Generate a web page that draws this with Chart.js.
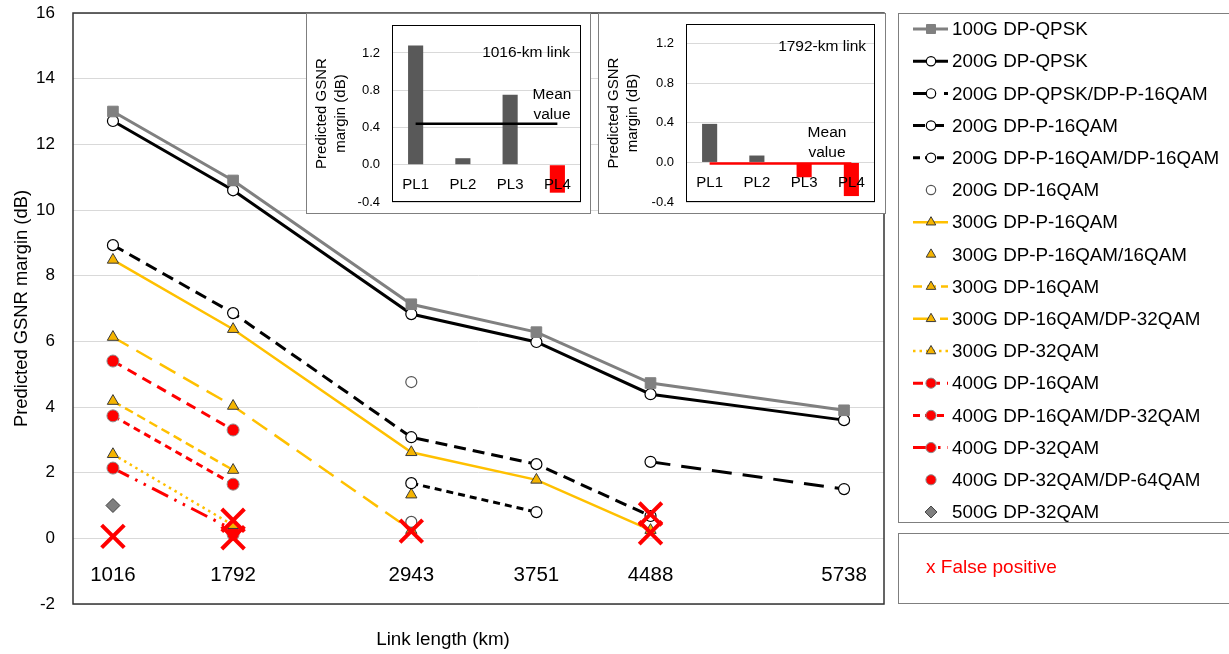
<!DOCTYPE html>
<html>
<head>
<meta charset="utf-8">
<script src="https://cdn.jsdelivr.net/npm/chart.js@4.4.1/dist/chart.umd.min.js"></script>
<style>
html, body { margin: 0; padding: 0; background: #fff; }
#wrap { position: relative; width: 1229px; height: 654px; overflow: hidden; }
#main { position: absolute; left: 0; top: 0; }
.inset { position: absolute; background: #fff; }
</style>
</head>
<body>
<div id="wrap">
    <canvas id="main" width="1229" height="654"></canvas>
    <div class="inset" style="left:306px;top:13px;width:285px;height:201px"><canvas id="inset1" width="285" height="201"></canvas></div>
    <div class="inset" style="left:598px;top:13px;width:288px;height:201px"><canvas id="inset2" width="288" height="201"></canvas></div>
</div>
<script>
// link lengths (km), every series below is aligned to these
const linkKm = [1016, 1792, 2943, 3751, 4488, 5738];

const g100DpQpsk = [13.0, 10.9, 7.13, 6.28, 4.73, 3.9];
const g200DpQpsk = [12.71, 10.6, 6.83, 5.98, 4.39, 3.6];
const g200QpskP16 = [null, null, null, null, 2.33, 1.5];
const g200P16 = [8.93, 6.86, 3.08, 2.26, 0.68, null];
const g200P16Dp16 = [null, null, 1.68, 0.8, null, null];
const g200Dp16Km = [2943, 2943];
const g200Dp16 = [4.76, 0.5];
const g300P16 = [8.48, 6.37, 2.62, 1.78, 0.25, null];
const g300P16Q16 = [null, null, 1.33, null, null, null];
const g300Dp16 = [4.18, 2.08, null, null, null, null];
const g300Dp16Dp32 = [6.13, 4.03, 0.25, null, null, null];
const g300Dp32 = [2.56, 0.4, null, null, null, null];
const g400Dp16 = [5.4, 3.3, null, null, null, null];
const g400Dp16Dp32 = [3.73, 1.65, null, null, null, null];
const g400Dp32 = [2.14, 0.26, null, null, null, null];
const g400Dp32Dp64 = [null, 0.12, null, null, null, null];
const g500Dp32 = [1.0, null, null, null, null, null];

const falseKm = [1016, 1792, 1792, 2943, 4488, 4488];
const falseMargin = [0.06, 0.55, 0.02, 0.22, 0.74, 0.17];

const yTicksMain = [-2, 0, 2, 4, 6, 8, 10, 12, 14, 16];

// insets
const plLabels = ["PL1", "PL2", "PL3", "PL4"];
const margin1016 = [1.28, 0.07, 0.75, -0.3];
const margin1792 = [0.39, 0.07, -0.15, -0.34];
const mean1016 = 0.44;
const mean1792 = -0.01;
const insetTicks = [-0.4, 0, 0.4, 0.8, 1.2];

const FONT = "'Liberation Sans', Arial, sans-serif";
Chart.defaults.font.family = FONT;
Chart.defaults.color = "#000";

const circleMk = { pointStyle: "circle", pointRadius: 5.5, pointBackgroundColor: "#fff", pointBorderColor: "#000", pointBorderWidth: 1.2 };
const triMk = { pointStyle: "triangle", pointRadius: 6.5, pointBackgroundColor: "#f5b400", pointBorderColor: "#3a3a3a", pointBorderWidth: 1 };
const redMk = { pointStyle: "circle", pointRadius: 6, pointBackgroundColor: "#ff0000", pointBorderColor: "#8c8c8c", pointBorderWidth: 1 };

function series(label, values, style, km) {
    const xs = km || linkKm;
    const ds = {
        label: label,
        data: xs.map(function (k, i) { return { x: k, y: values[i] }; }),
        showLine: true,
        borderWidth: 3,
        spanGaps: false
    };
    return Object.assign(ds, style);
}

const datasets = [
    series("False positive", falseMargin, {
        showLine: false, pointStyle: "crossRot", pointRadius: 16, pointBorderWidth: 4,
        pointBorderColor: "#ff0000", pointBackgroundColor: "#ff0000", order: -1, noLegend: true
    }, falseKm),
    series("100G DP-QPSK", g100DpQpsk, { borderColor: "#808080", pointStyle: "rect", pointRadius: 7.5, pointBackgroundColor: "#808080", pointBorderColor: "#808080", pointBorderWidth: 1 }),
    series("200G DP-QPSK", g200DpQpsk, Object.assign({ borderColor: "#000" }, circleMk)),
    series("200G DP-QPSK/DP-P-16QAM", g200QpskP16, Object.assign({ borderColor: "#000", borderDash: [20, 11] }, circleMk)),
    series("200G DP-P-16QAM", g200P16, Object.assign({ borderColor: "#000", borderDash: [12, 7] }, circleMk)),
    series("200G DP-P-16QAM/DP-16QAM", g200P16Dp16, Object.assign({ borderColor: "#000", borderDash: [7, 5] }, circleMk)),
    series("200G DP-16QAM", g200Dp16, Object.assign({ showLine: false, borderColor: "#000" }, circleMk, { pointBorderColor: "#555" }), g200Dp16Km),
    series("300G DP-P-16QAM", g300P16, Object.assign({ borderColor: "#ffc000", borderWidth: 2.5 }, triMk)),
    series("300G DP-P-16QAM/16QAM", g300P16Q16, Object.assign({ showLine: false, borderColor: "#ffc000" }, triMk)),
    series("300G DP-16QAM", g300Dp16, Object.assign({ borderColor: "#ffc000", borderWidth: 2.5, borderDash: [9, 5] }, triMk)),
    series("300G DP-16QAM/DP-32QAM", g300Dp16Dp32, Object.assign({ borderColor: "#ffc000", borderWidth: 2.5, borderDash: [18, 9] }, triMk)),
    series("300G DP-32QAM", g300Dp32, Object.assign({ borderColor: "#ffc000", borderWidth: 2.5, borderDash: [2.5, 4] }, triMk)),
    series("400G DP-16QAM", g400Dp16, Object.assign({ borderColor: "#ff0000", borderDash: [10, 7] }, redMk)),
    series("400G DP-16QAM/DP-32QAM", g400Dp16Dp32, Object.assign({ borderColor: "#ff0000", borderDash: [7, 5] }, redMk)),
    series("400G DP-32QAM", g400Dp32, Object.assign({ borderColor: "#ff0000", borderDash: [18, 7, 2.5, 7, 2.5, 7] }, redMk)),
    series("400G DP-32QAM/DP-64QAM", g400Dp32Dp64, Object.assign({ showLine: false, borderColor: "#ff0000" }, redMk)),
    series("500G DP-32QAM", g500Dp32, { showLine: false, borderColor: "#7f7f7f", pointStyle: "rectRot", pointRadius: 7, pointBackgroundColor: "#7f7f7f", pointBorderColor: "#404040", pointBorderWidth: 1 })
];

const mainDecor = {
    id: "mainDecor",
    afterDraw(chart) {
        const ctx = chart.ctx;
        const a = chart.chartArea;
        const x = chart.scales.x;
        const y = chart.scales.y;
        ctx.save();
        ctx.setLineDash([]);
        ctx.strokeStyle = "#333";
        ctx.lineWidth = 1.5;
        ctx.strokeRect(a.left, a.top, a.right - a.left, a.bottom - a.top);

        // link length labels inside the plot
        ctx.fillStyle = "#000";
        ctx.textAlign = "center";
        ctx.textBaseline = "middle";
        ctx.font = "20.5px " + FONT;
        linkKm.forEach(function (k) {
            ctx.fillText(String(k), x.getPixelForValue(k), y.getPixelForValue(-1.13));
        });
        ctx.font = "18.8px " + FONT;
        ctx.fillText("Link length (km)", 443, 640);

        // legend box
        ctx.strokeStyle = "#7f7f7f";
        ctx.lineWidth = 1;
        ctx.strokeRect(898.5, 13.5, 345, 509);
        ctx.strokeRect(898.5, 533.5, 345, 70);

        ctx.textAlign = "left";
        ctx.font = "18.8px " + FONT;
        let row = 0;
        chart.data.datasets.forEach(function (ds) {
            if (ds.noLegend) {
                return;
            }
            const ry = 29 + row * 32.2;
            if (ds.showLine) {
                ctx.strokeStyle = ds.borderColor;
                ctx.lineWidth = ds.borderWidth;
                ctx.setLineDash(ds.borderDash || []);
                ctx.beginPath();
                ctx.moveTo(913, ry);
                ctx.lineTo(948, ry);
                ctx.stroke();
            }
            ctx.setLineDash([]);
            ctx.fillStyle = ds.pointBackgroundColor;
            ctx.strokeStyle = ds.pointBorderColor;
            ctx.lineWidth = ds.pointBorderWidth;
            Chart.helpers.drawPoint(ctx, {
                pointStyle: ds.pointStyle, rotation: 0,
                radius: ds.pointRadius * 0.85, borderWidth: ds.pointBorderWidth
            }, 931, ry);
            ctx.fillStyle = "#000";
            ctx.fillText(ds.label, 952, ry + 1);
            row++;
        });

        ctx.fillStyle = "#ff0000";
        ctx.font = "19px " + FONT;
        ctx.fillText("x False positive", 926, 568);
        ctx.restore();
    }
};

new Chart(document.getElementById("main"), {
    type: "line",
    data: { datasets: datasets },
    options: {
        responsive: false,
        animation: false,
        events: [],
        layout: { autoPadding: false, padding: { left: 0, top: 13, right: 345, bottom: 50 } },
        plugins: { legend: { display: false }, tooltip: { enabled: false } },
        scales: {
            x: {
                type: "linear",
                min: 758,
                max: 5996,
                display: false
            },
            y: {
                min: -2,
                max: 16,
                afterBuildTicks: function (scale) {
                    scale.ticks = yTicksMain.map(function (v) { return { value: v }; });
                },
                afterFit: function (scale) {
                    scale.width = 73;
                    scale.paddingTop = 0;
                    scale.paddingBottom = 0;
                },
                grid: { color: "#d9d9d9", lineWidth: 1, drawTicks: false },
                border: { display: false },
                ticks: { font: { size: 17 }, color: "#000", padding: 18 },
                title: {
                    display: true,
                    text: "Predicted GSNR margin (dB)",
                    font: { size: 18.4 },
                    color: "#000",
                    padding: { top: 11, bottom: 0 }
                }
            }
        }
    },
    plugins: [mainDecor]
});

function insetDecor(cfg) {
    return {
        id: "insetDecor",
        afterDraw(chart) {
            const ctx = chart.ctx;
            const a = chart.chartArea;
            const x = chart.scales.x;
            const y = chart.scales.y;
            ctx.save();
            ctx.strokeStyle = "#7f7f7f";
            ctx.lineWidth = 1;
            ctx.strokeRect(0.5, 0.5, chart.width - 1, chart.height - 1);
            ctx.strokeStyle = "#000";
            ctx.strokeRect(a.left + 0.5, a.top + 0.5, a.right - a.left - 1, a.bottom - a.top - 1);

            ctx.fillStyle = "#000";
            ctx.font = "15px " + FONT;
            ctx.textAlign = "center";
            ctx.textBaseline = "middle";
            plLabels.forEach(function (lab, i) {
                ctx.fillText(lab, x.getPixelForValue(i), y.getPixelForValue(0) + 20);
            });
            ctx.font = "15.5px " + FONT;
            ctx.textAlign = "right";
            ctx.fillText(cfg.title, cfg.titleX, cfg.titleY);
            ctx.textAlign = "center";
            ctx.fillText("Mean", cfg.meanX, cfg.meanY);
            ctx.fillText("value", cfg.meanX, cfg.meanY + 20);
            ctx.restore();
        }
    };
}

function makeInset(canvasId, values, mean, meanColor, yMax, axisWidth, pad, cfg) {
    return new Chart(document.getElementById(canvasId), {
        type: "bar",
        data: {
            labels: plLabels,
            datasets: [
                {
                    type: "line",
                    data: plLabels.map(function () { return mean; }),
                    borderColor: meanColor,
                    borderWidth: 2.5,
                    pointRadius: 0,
                    order: 0
                },
                {
                    data: values,
                    backgroundColor: values.map(function (v) { return v < 0 ? "#ff0000" : "#595959"; }),
                    barPercentage: 0.32,
                    categoryPercentage: 1,
                    order: 1
                }
            ]
        },
        options: {
            responsive: false,
            animation: false,
            events: [],
            layout: { autoPadding: false, padding: pad },
            plugins: { legend: { display: false }, tooltip: { enabled: false } },
            scales: {
                x: { display: false },
                y: {
                    min: -0.4,
                    max: yMax,
                    afterBuildTicks: function (scale) {
                        scale.ticks = insetTicks.map(function (v) { return { value: v }; });
                    },
                    afterFit: function (scale) {
                        scale.width = axisWidth;
                        scale.paddingTop = 0;
                        scale.paddingBottom = 0;
                    },
                    grid: { color: "#d9d9d9", drawTicks: false },
                    border: { display: false },
                    ticks: {
                        font: { size: 13 },
                        color: "#000",
                        padding: 12,
                        callback: function (v) { return Number(v).toFixed(1); }
                    },
                    title: {
                        display: true,
                        text: ["Predicted GSNR", "margin (dB)"],
                        font: { size: 15, lineHeight: 1.3 },
                        color: "#000",
                        padding: { top: 6, bottom: 0 }
                    }
                }
            }
        },
        plugins: [insetDecor(cfg)]
    });
}

makeInset("inset1", margin1016, mean1016, "#000", 1.5, 86, { left: 0, top: 12, right: 10, bottom: 12 },
    { title: "1016-km link", titleX: 264, titleY: 40, meanX: 246, meanY: 82 });
makeInset("inset2", margin1792, mean1792, "#ff0000", 1.4, 88, { left: 0, top: 11, right: 11, bottom: 12 },
    { title: "1792-km link", titleX: 268, titleY: 34, meanX: 229, meanY: 120 });
</script>
</body>
</html>
